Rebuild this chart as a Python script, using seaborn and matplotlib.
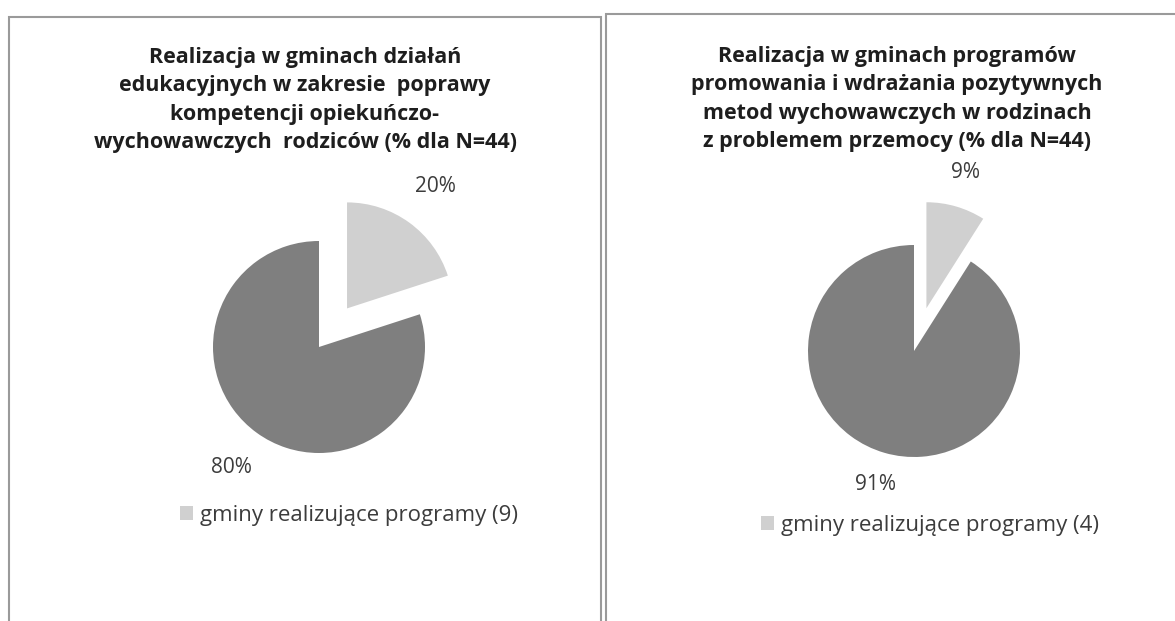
import matplotlib
matplotlib.use("Agg")
import numpy as np
import matplotlib.pyplot as plt
from matplotlib.patches import Rectangle
import seaborn as sns

sns.set_theme(style="white")
plt.rcParams['font.family'] = ['Open Sans', 'DejaVu Sans']

# Data
categories = ["gminy realizujące programy", "gminy nierealizujące programów"]
left_values = [20, 80]
right_values = [9, 91]
left_count = 9
right_count = 4
left_title = ("Realizacja w gminach działań\n"
              "edukacyjnych w zakresie  poprawy\n"
              "kompetencji opiekuńczo-\n"
              "wychowawczych  rodziców (% dla N=44)")
right_title = ("Realizacja w gminach programów\n"
               "promowania i wdrażania pozytywnych\n"
               "metod wychowawczych w rodzinach\n"
               "z problemem przemocy (% dla N=44)")

colors = ["#d0d0d0", "#7f7f7f"]
W, H = 1175, 621
fig = plt.figure(figsize=(W / 100, H / 100), dpi=100)

def fx(px):
    return px / W

def fy(py):
    return 1 - py / H

# panel borders
fig.patches.append(Rectangle((fx(9), fy(640)), fx(601) - fx(9), fy(17) - fy(640),
                             transform=fig.transFigure, fill=False,
                             edgecolor="#9a9a9a", lw=1.5))
fig.patches.append(Rectangle((fx(606), fy(640)), fx(1180) - fx(606), fy(14) - fy(640),
                             transform=fig.transFigure, fill=False,
                             edgecolor="#9a9a9a", lw=1.5))

R = 106
L = 1.6
S = 2 * L * R

def pie_axes(cx, cy):
    ax = fig.add_axes([fx(cx - S / 2), fy(cy + S / 2), S / W, S / H])
    ax.axis("off")
    return ax

def draw(ax, values, explode, dists):
    wedges, texts, autotexts = ax.pie(
        values, colors=colors, startangle=90, counterclock=False,
        explode=explode, autopct="%d%%", pctdistance=1.0, radius=1,
        wedgeprops=dict(edgecolor="none"),
        textprops=dict(fontsize=15, color="#3c3c3c"))
    for t, d, w in zip(autotexts, dists, wedges):
        th = np.deg2rad((w.theta1 + w.theta2) / 2)
        cx, cy = w.center
        t.set_position((cx + d * np.cos(th), cy + d * np.sin(th)))
        t.set_clip_on(False)
    ax.set_xlim(-L, L)
    ax.set_ylim(-L, L)
    ax.set_aspect("equal")
    return wedges

axl = pie_axes(319, 347)
wl = draw(axl, left_values, [0.45, 0], [1.42, 1.40])
axr = pie_axes(914, 351)
wr = draw(axr, right_values, [0.42, 0], [1.33, 1.31])

fig.text(fx(305), fy(100), left_title, ha="center", va="center", fontsize=15.5,
         fontweight="bold", color="#1e1e1e", linespacing=1.45)
fig.text(fx(897), fy(99), right_title, ha="center", va="center", fontsize=15.5,
         fontweight="bold", color="#1e1e1e", linespacing=1.45)

fig.legend([wl[0]], [f"{categories[0]} ({left_count})"], loc="center left",
           bbox_to_anchor=(fx(160), fy(515)), frameon=False, fontsize=16,
           handlelength=0.6, handleheight=0.6, handletextpad=0.3,
           labelcolor="#3c3c3c")
fig.legend([wr[0]], [f"{categories[0]} ({right_count})"], loc="center left",
           bbox_to_anchor=(fx(741), fy(525)), frameon=False, fontsize=16,
           handlelength=0.6, handleheight=0.6, handletextpad=0.3,
           labelcolor="#3c3c3c")

fig.savefig("out.png", dpi=100, facecolor="white")
